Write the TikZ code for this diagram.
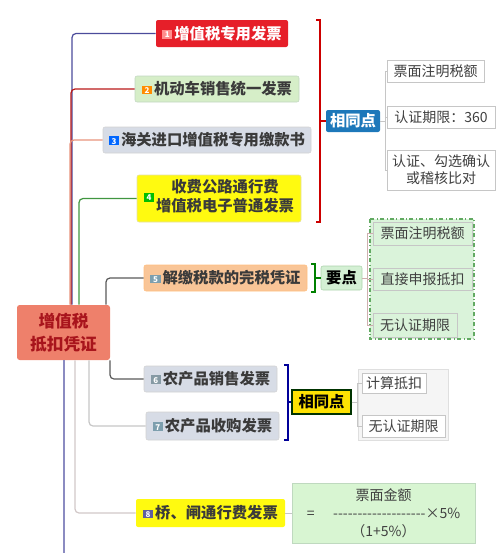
\documentclass[tikz,border=0pt]{standalone}
\usepackage{fontspec}
\setmainfont{Noto Sans CJK SC}
\usetikzlibrary{calc}

\definecolor{rootfill}{HTML}{EE806B}
\definecolor{roottext}{HTML}{A8141C}
\definecolor{redfill}{HTML}{E61F29}
\definecolor{greenfill}{HTML}{D6EEC8}
\definecolor{bluegrey}{HTML}{D7DCE6}
\definecolor{yellowfill}{HTML}{FFFA10}
\definecolor{peachfill}{HTML}{F9C597}
\definecolor{samefill}{HTML}{1D78BA}
\definecolor{keyfill}{HTML}{D4F0D4}
\definecolor{panelgreen}{HTML}{DAF3DA}
\definecolor{formulafill}{HTML}{D8F5D2}
\definecolor{txtgrey}{HTML}{3A3A3A}

\newcommand{\icon}[2]{\raisebox{1.2pt}{\setlength{\fboxsep}{0.8pt}\colorbox{#1}{\makebox[6pt]{\rule{0pt}{5pt}\fontsize{6}{6}\selectfont\color{white}#2}}}\hspace{1.5pt}}
\newcommand{\dashrow}{-{}-{}-{}-{}-{}-{}-{}-{}-{}-{}-{}-{}-{}-{}-{}-{}-{}-{}-{}}

\begin{document}
\begin{tikzpicture}[
x=0.75pt,y=-0.75pt,
sz/.style n args={2}{minimum width=#1*0.75pt,minimum height=#2*0.75pt},
topic/.style={
  inner sep=0pt,
  align=center,
  rounded corners=1.5pt,
  text=txtgrey,
  font=\fontsize{11.5}{14}\selectfont\bfseries
},
leaf/.style={
  draw=gray!45,
  fill=white,
  inner sep=0pt,
  align=center,
  text=black!75,
  font=\fontsize{10.5}{13}\selectfont
},
link/.style={line width=0.9pt,rounded corners=3pt},
brace/.style={line width=1.5pt},
twig/.style={gray!45,line width=0.6pt}
]
\useasboundingbox (0,0) rectangle (496,553);

% background panels
\draw[panelgreen!70!black!40!green!45!gray, fill=panelgreen, dash dot, line width=0.8pt]
  (370,219) rectangle (474,339);
\draw[gray!25, fill=gray!8] (358,369) rectangle (448,440);

\node[topic,sz={93}{55},fill=rootfill,text=roottext,rounded corners=2pt,
  font=\fontsize{12.5}{17}\selectfont\bfseries] (root) at (63.5,332.5) {增值税\\抵扣凭证};

\node[topic,sz={132}{27},fill=redfill,text=white] (b1) at (222,33.5)
  {\icon{red!45}{1}增值税专用发票};
\node[topic,sz={164}{26},fill=greenfill,draw=green!20!gray!40] (b2) at (217,89)
  {\icon{orange!90!yellow}{2}机动车销售统一发票};
\node[topic,sz={208}{26},fill=bluegrey,draw=gray!35] (b3) at (207,140)
  {\icon{blue!60!cyan}{3}海关进口增值税专用缴款书};
\node[topic,sz={164}{47},fill=yellowfill,draw=yellow!50!gray!50] (b4) at (219,198.5)
  {\icon{green!75!black}{4}\begin{tabular}{@{}c@{}}收费公路通行费\\增值税电子普通发票\end{tabular}};
\node[topic,sz={163}{26},fill=peachfill,draw=orange!50] (b5) at (225.5,278)
  {\icon{cyan!30!gray}{5}解缴税款的完税凭证};
\node[topic,sz={133}{26},fill=bluegrey,draw=gray!35] (b6) at (210.5,379)
  {\icon{cyan!20!gray}{6}农产品销售发票};
\node[topic,sz={133}{28},fill=bluegrey,draw=gray!35] (b7) at (212.5,426)
  {\icon{cyan!30!gray}{7}农产品收购发票};
\node[topic,sz={149}{28},fill=yellowfill] (b8) at (210.5,513)
  {\icon{blue!25!gray}{8}桥、闸通行费发票};

\node[topic,sz={54}{22},fill=samefill,text=white] (same1) at (353,121) {相同点};
\node[leaf,sz={97}{22}] (r1) at (435.5,71) {票面注明税额};
\node[leaf,sz={108}{22}] (r2) at (441,117) {认证期限：360};
\node[leaf,sz={108}{40}] (r3) at (441,170) {认证、勾选确认\\或稽核比对};

\node[topic,sz={41}{24},fill=keyfill,draw=green!30!gray!50,text=black] (key) at (341.5,278) {要点};
\node[leaf,sz={99}{23},fill=panelgreen] (k1) at (422.5,233.5) {票面注明税额};
\node[leaf,sz={99}{22},fill=panelgreen] (k2) at (422.5,279) {直接申报抵扣};
\node[leaf,sz={84}{24},fill=panelgreen] (k3) at (415,325) {无认证期限};

\node[topic,sz={59}{24},fill=yellow!85!orange,draw=black!80!green,line width=1pt,
  rounded corners=0pt,text=black] (same2) at (321.5,402) {相同点};
\node[leaf,sz={64}{20}] (g1) at (394,383) {计算抵扣};
\node[leaf,sz={83}{22}] (g2) at (403.5,426) {无认证期限};

\node[leaf,sz={183}{60},fill=formulafill,draw=green!25!gray!40,
  font=\fontsize{10.5}{13.5}\selectfont] (formula) at (383.5,513)
  {票面金额\\=\hspace{14pt}\dashrow×5\%\\（1+5\%）};

% from the root
\draw[link,blue!35!gray!90!black] ($(root.north)+(8.5,0)$) |- (b1);
\draw[link,red!70!black!90] ($(root.north)+(7.5,0)$) |- (b2);
\draw[link,red!40!brown!60] ($(root.north)+(6.5,0)$) |- (b3);
\draw[link,green!45!black!75] ($(root.north)+(15.5,0)$) |- (b4);
\draw[link,black!65] ($(root.north)+(42.5,0)$) |- (b5);
\draw[link,black!65] ($(root.south)+(46.5,0)$) |- (b6);
\draw[link,gray!45] ($(root.south)+(25.5,0)$) |- (b7);
\draw[link,red!10!gray!40] ($(root.south)+(11.5,0)$) |- (b8);
\coordinate (tail) at (64,553);
\draw[link,blue!30!gray!70] ($(root.south)+(0.5,0)$) -- (tail);

% brackets
\draw[brace,red!80!black] (316,20) -- (320,20) -- (320,222) -- (316,222);
\draw[brace,red!80!black] (320,121) -- (same1);
\draw[brace,green!50!black] (311,264) -- (315,264) -- (315,292) -- (311,292);
\draw[brace,green!50!black] (315,278) -- (key);
\draw[brace,blue!60!black] (284,365) -- (288,365) -- (288,440) -- (284,440);
\draw[brace,blue!60!black] (288,402) -- (same2);

% leaves
\coordinate (j1) at (385,121);
\draw[twig] (same1) -- (j1);
\foreach \r in {r1,r2,r3} \draw[twig] (j1) |- (\r);
\coordinate (j2) at (367,278);
\draw[twig,red!25!gray!50] (key) -- (j2);
\foreach \k in {k1,k2,k3} \draw[twig,red!25!gray!50] (j2) |- (\k);
\coordinate (j3) at (357,402);
\draw[twig] (same2) -- (j3);
\foreach \g in {g1,g2} \draw[twig] (j3) |- (\g);
\draw[twig] (b8) -- (formula);
\end{tikzpicture}
\end{document}
